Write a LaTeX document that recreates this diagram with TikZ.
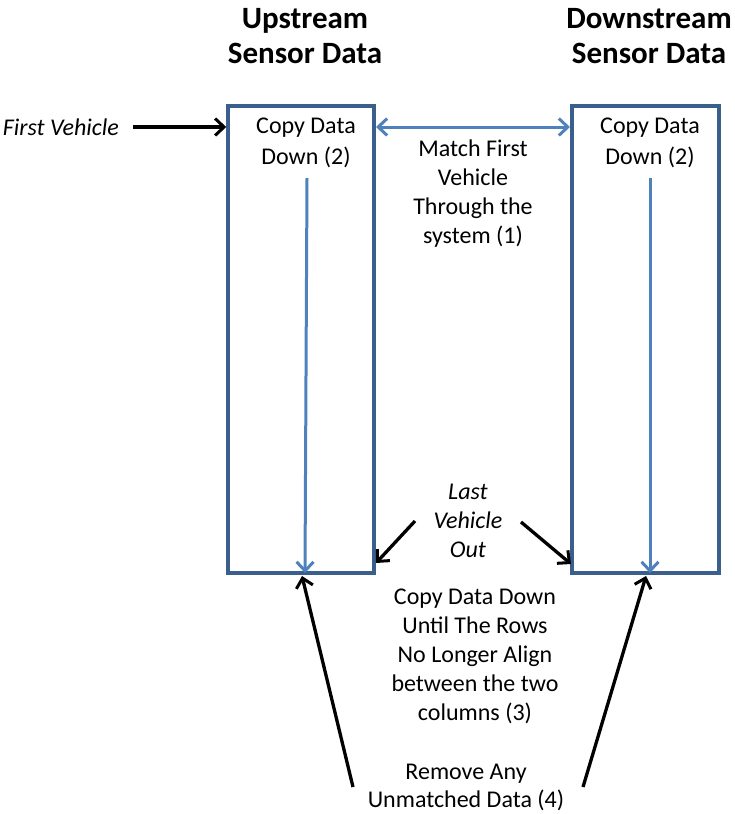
\documentclass[tikz,border=0pt]{standalone}
\usepackage{fontspec}
\setmainfont{Carlito}
\usetikzlibrary{arrows.meta}
\definecolor{boxblue}{HTML}{3A5F8C}
\definecolor{arrblue}{HTML}{4F81BD}
\begin{document}
\begin{tikzpicture}[x=1pt,y=-1pt,
  col/.style={draw=boxblue,line width=3.5pt,inner sep=0pt},
  lbl/.style={align=center,inner sep=0pt,font=\fontsize{24}{29}\selectfont},
  ilbl/.style={lbl,font=\fontsize{24}{29}\selectfont\itshape},
  ttl/.style={align=center,inner sep=0pt,font=\fontsize{31}{35}\selectfont\bfseries},
  tip/.tip={Straight Barb[length=9pt,width=17pt,line width=3pt]},
  blk/.style={-tip,line width=3.3pt,black},
  blu/.style={line width=3pt,arrblue}]
\useasboundingbox (0,0) rectangle (735,814);
\node[ttl] (t1) at (305,36) {Upstream\\Sensor Data};
\node[ttl] (t2) at (649,36) {Downstream\\Sensor Data};
\node[col,minimum width=146pt,minimum height=467pt] (b1) at (301,339.5) {};
\node[col,minimum width=147pt,minimum height=467pt] (b2) at (645.5,339.5) {};
\node[ilbl,anchor=east] (fv) at (119,127) {First Vehicle};
\coordinate (fvs) at (133,127);
\draw[blk] (fvs) -- (b1.west |- fvs);
\node[lbl,font=\fontsize{24}{31}\selectfont] (c1) at (306,143) {Copy Data\\Down (2)};
\node[lbl,font=\fontsize{24}{31}\selectfont] (c2) at (650,143) {Copy Data\\Down (2)};
\coordinate (a1) at (376,127);
\coordinate (a2) at (570,127);
\draw[blu,tip-tip] (a1) -- (a2);
\node[lbl] (m1) at (473,194) {Match First\\Vehicle\\Through the\\system (1)};
\coordinate (d1s) at (307,178);
\coordinate (d1e) at (305,573);
\coordinate (d2s) at (650,178);
\coordinate (d2e) at (650,573);
\draw[blu,-tip] (d1s) -- (d1e);
\draw[blu,-tip] (d2s) -- (d2e);
\node[ilbl] (lv) at (468,521) {Last\\Vehicle\\Out};
\coordinate (l1) at (415,521);
\coordinate (l1e) at (376,563);
\coordinate (l2) at (521,522);
\coordinate (l2e) at (571,564);
\draw[blk] (l1) -- (l1e);
\draw[blk] (l2) -- (l2e);
\node[lbl] (cd) at (475,656) {Copy Data Down\\Until The Rows\\No Longer Align\\between the two\\columns (3)};
\node[lbl,font=\fontsize{24}{28}\selectfont] (rm) at (466,787) {Remove Any\\Unmatched Data (4)};
\coordinate (r1) at (353,787);
\coordinate (r1e) at (302,576);
\coordinate (r2) at (583,787);
\coordinate (r2e) at (646,576);
\draw[blk] (r1) -- (r1e);
\draw[blk] (r2) -- (r2e);
\end{tikzpicture}
\end{document}
